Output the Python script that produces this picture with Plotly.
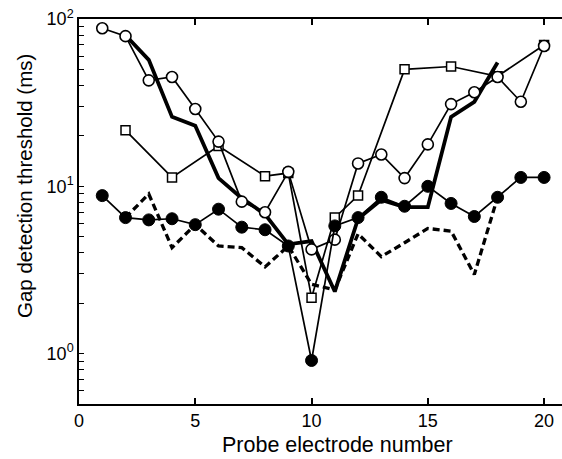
import plotly.graph_objects as go

# ---- data ----
x_open = list(range(1, 21))
y_open = [88, 79, 43, 45, 29, 18.5, 8.1, 7.0, 12.2, 4.2, 4.8, 13.7, 15.5, 11.2, 17.8, 31, 36.5, 45, 32, 69]

x_square = [2, 4, 6, 8, 9, 10, 11, 12, 14, 16, 18, 20]
y_square = [21.6, 11.3, 17.4, 11.5, 12.0, 2.16, 6.5, 8.8, 50, 52, 45.5, 70]

x_filled = list(range(1, 21))
y_filled = [8.8, 6.5, 6.3, 6.4, 5.9, 7.3, 5.7, 5.5, 4.4, 0.91, 5.8, 6.5, 8.6, 7.6, 10.0, 7.9, 6.6, 8.6, 11.3, 11.3]

x_thick = list(range(2, 19))
y_thick = [80, 57, 26, 23, 11.2, 8.5, 6.8, 4.5, 4.7, 2.35, 6.4, 8.3, 7.5, 7.5, 26, 32, 55]

x_dash = list(range(2, 19))
y_dash = [6.5, 9.0, 4.3, 5.9, 4.4, 4.3, 3.3, 4.4, 2.6, 2.4, 5.2, 3.8, 4.6, 5.6, 5.4, 2.97, 8.6]

x_ticks = [0, 5, 10, 15, 20]
y_major = [1, 10, 100]
y_major_text = ["10<sup>0</sup>", "10<sup>1</sup>", "10<sup>2</sup>"]
y_minor = [0.5, 0.6, 0.7, 0.8, 0.9, 2, 3, 4, 5, 6, 7, 8, 9, 20, 30, 40, 50, 60, 70, 80, 90]

FONT = "Liberation Sans, Arial, sans-serif"
Y_RANGE = [-0.301, 2.0]

# all y ticks (major labelled, minor blank)
y_tickvals = y_major + y_minor
y_ticktext = y_major_text + [""] * len(y_minor)

fig = go.Figure()

fig.add_trace(go.Scatter(x=x_thick, y=y_thick, mode="lines",
                         line=dict(color="black", width=3.8), showlegend=False))
fig.add_trace(go.Scatter(x=x_dash, y=y_dash, mode="lines",
                         line=dict(color="black", width=3.3, dash="7px,4px"), showlegend=False))
fig.add_trace(go.Scatter(x=x_square, y=y_square, mode="lines+markers",
                         line=dict(color="black", width=1.7),
                         marker=dict(symbol="square", size=9, color="white",
                                     line=dict(color="black", width=1.5)),
                         showlegend=False))
fig.add_trace(go.Scatter(x=x_open, y=y_open, mode="lines+markers",
                         line=dict(color="black", width=1.7),
                         marker=dict(symbol="circle", size=11, color="white",
                                     line=dict(color="black", width=1.6)),
                         showlegend=False))
fig.add_trace(go.Scatter(x=x_filled, y=y_filled, mode="lines+markers",
                         line=dict(color="black", width=1.7),
                         marker=dict(symbol="circle", size=12, color="black",
                                     line=dict(color="black", width=1)),
                         showlegend=False))

fig.update_layout(
    width=562, height=459,
    margin=dict(l=79, r=0, t=19, b=55),
    paper_bgcolor="white", plot_bgcolor="white",
    font=dict(family=FONT, size=18, color="black"),
    xaxis=dict(range=[0, 20.77], tickvals=x_ticks, ticks="inside", ticklen=6,
               tickwidth=1.5, tickcolor="black", showline=True, linecolor="black",
               linewidth=1.5, mirror="ticks", showgrid=False, zeroline=False,
               tickfont=dict(size=18, family=FONT)),
    yaxis=dict(type="log", range=Y_RANGE, tickvals=y_tickvals, ticktext=y_ticktext,
               ticks="inside", ticklen=5, tickwidth=1.3, tickcolor="black",
               showline=True, linecolor="black", linewidth=1.5, showgrid=False,
               zeroline=False, tickfont=dict(size=18, family=FONT)),
    annotations=[
        dict(text="Probe electrode number", xref="paper", yref="paper",
             x=(337 - 79) / 483, y=-(445 - 404) / 385, showarrow=False,
             xanchor="center", yanchor="middle", font=dict(size=21.5, family=FONT)),
        dict(text="Gap detection threshold (ms)", xref="paper", yref="paper",
             x=-(79 - 24) / 483, y=(404 - 186) / 385, showarrow=False, textangle=-90,
             xanchor="center", yanchor="middle", font=dict(size=20.5, family=FONT)),
    ],
)

fig.write_html("out.html")
